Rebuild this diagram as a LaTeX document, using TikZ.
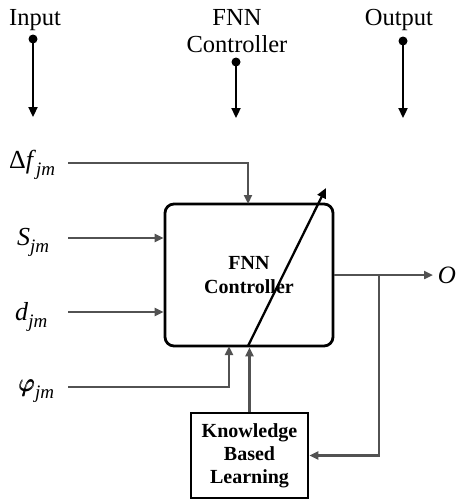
\documentclass[tikz,border=0pt]{standalone}
\usepackage{amsmath}
\usepackage{fontspec}
\setmainfont{Liberation Serif}
\usetikzlibrary{arrows.meta}
\newcommand{\sbs}[1]{\raisebox{-7pt}{\fontsize{19}{19}\selectfont\itshape #1}}
\begin{document}
\begin{tikzpicture}[x=1pt,y=-1pt,
  toplab/.style={font=\fontsize{24.5}{27}\selectfont, align=center, inner sep=0pt, anchor=base},
  dot/.style={circle, fill=black, inner sep=0pt, minimum size=9pt},
  toparrow/.style={line width=2.3pt, -{Triangle[length=10pt,width=9pt]}},
  garrow/.style={draw=black!68, line width=2.3pt, -{Triangle[length=9pt,width=8pt]}},
  mlab/.style={font=\fontsize{26}{26}\selectfont, inner sep=0pt, anchor=base west},
  blk/.style={draw=black, line width=2.8pt, font=\fontsize{20}{24}\selectfont\bfseries, align=center}
]
\useasboundingbox (0,0) rectangle (461,501);
% top legend
\node[toplab] (inlab) at (35,25) {Input};
\node[toplab] (fnnlab) at (237,52) {FNN\\Controller};
\node[toplab] (outlab) at (399,25) {Output};
\node[dot] (d1) at (33,39) {};
\node[dot] (d2) at (236,62) {};
\node[dot] (d3) at (403,41) {};
\coordinate (e1) at (33,117);
\coordinate (e2) at (236,118);
\coordinate (e3) at (403,118);
\draw[toparrow] (d1.center) -- (e1);
\draw[toparrow] (d2.center) -- (e2);
\draw[toparrow] (d3.center) -- (e3);
% main blocks
\node[blk, rounded corners=9pt, minimum width=168pt, minimum height=142pt] (fnn) at (249,275) {FNN\\Controller};
\node[blk, minimum width=117pt, minimum height=85pt, font=\fontsize{20}{23}\selectfont\bfseries] (kbl) at (249.5,455.5) {Knowledge\\Based\\Learning};
% input labels
\node[mlab] (df) at (9,168) {Δ\textit{f}\sbs{jm}};
\node[mlab] (s) at (17,245) {\textit{S}\sbs{jm}};
\node[mlab] (d) at (15,320) {\textit{d}\sbs{jm}};
\node[mlab] (phi) at (19,391) {{\fontsize{36}{36}\selectfont$\pmb{\varphi}$}\sbs{jm}};
\coordinate (sdf) at (68,163);
\coordinate (ss) at (68,238);
\coordinate (sd) at (68,312);
\coordinate (sphi) at (68,387);
\coordinate (tdf) at (248,204);
\coordinate (tphi) at (229,346);
\draw[garrow] (sdf) -| (tdf);
\draw[garrow] (ss) -- (ss -| fnn.west);
\draw[garrow] (sd) -- (sd -| fnn.west);
\draw[garrow] (sphi) -| (tphi);
% KBL to FNN
\draw[garrow] (kbl.north) -- (kbl.north |- fnn.south);
% diagonal adaptation arrow
\coordinate (db) at (248,346);
\coordinate (dt) at (326,188);
\draw[line width=2.3pt, -{Triangle[length=10pt,width=9pt]}] (db) -- (dt);
% output
\node[font=\fontsize{25}{25}\selectfont\itshape, inner sep=0pt] (o) at (447,275) {O};
\coordinate (oend) at (433,275);
\coordinate (br) at (379,275);
\draw[garrow] (fnn.east) -- (oend);
\draw[garrow] (br) |- (kbl.east);
\end{tikzpicture}
\end{document}
